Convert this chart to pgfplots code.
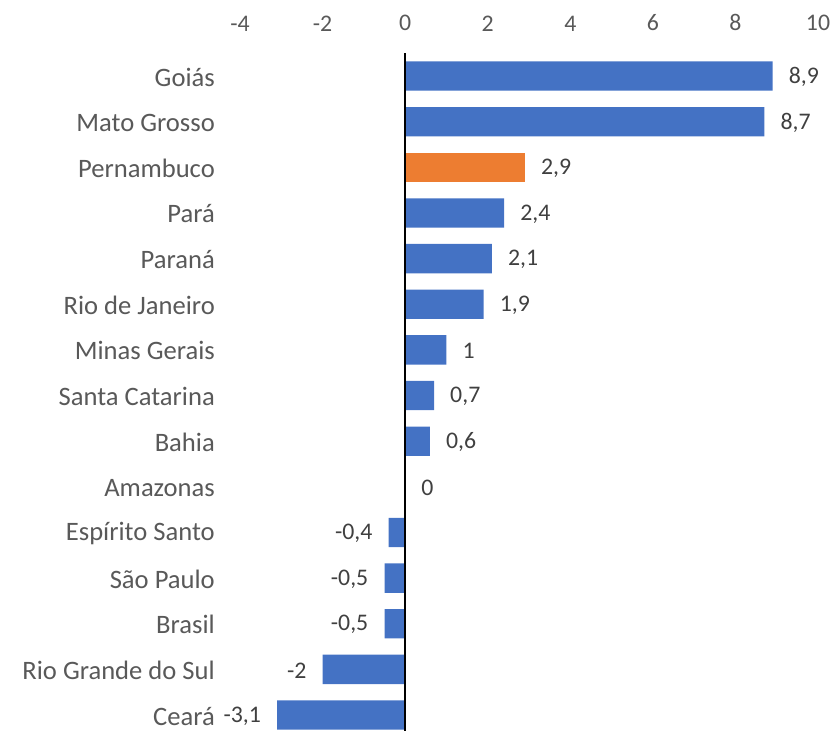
\documentclass[border=0pt]{standalone}
\usepackage{fontspec}
\setmainfont{Carlito}
\usepackage{pgfplots}
\pgfplotsset{compat=1.18}
\definecolor{barblue}{HTML}{4472C4}
\definecolor{barorange}{HTML}{ED7D31}
\definecolor{labgray}{HTML}{595959}
\definecolor{datgray}{HTML}{404040}
\begin{document}
\begin{tikzpicture}
\useasboundingbox (0pt,0pt) rectangle (833pt,-731pt);
\begin{axis}[
  at={(240pt,-53.2pt)}, anchor=north west,
  scale only axis, width=578pt, height=677.8pt,
  xbar, bar width=29.3pt, bar shift=0pt,
  xmin=-4, xmax=10,
  ymin=-0.5, ymax=14.35, y dir=reverse,
  xtick={-4,-2,0,2,4,6,8,10},
  ytick={0,...,14},
  yticklabels={Goiás,Mato Grosso,Pernambuco,Pará,Paraná,Rio de Janeiro,Minas Gerais,Santa Catarina,Bahia,Amazonas,Espírito Santo,São Paulo,Brasil,Rio Grande do Sul,Ceará},
  xticklabel pos=upper,
  axis line style={draw=none},
  tick style={draw=none},
  major tick length=0pt,
  /pgf/number format/assume math mode=true,
  /pgf/number format/use comma,
  /pgf/number format/1000 sep={},
  xticklabel style={font=\fontsize{23.8}{28}\selectfont, text=labgray, anchor=south, inner ysep=22pt},
  yticklabel style={font=\fontsize{26.6}{31}\selectfont, text=labgray, anchor=east, inner xsep=25pt, yshift=-1pt},
  extra x ticks={0},
  extra x tick labels={},
  extra x tick style={grid=major, grid style={black, line width=1.6pt}},
  axis on top,
  nodes near coords,
  nodes near coords align=horizontal,
  nodes near coords style={font=\fontsize{23.8}{28}\selectfont, text=datgray, inner xsep=16pt, yshift=-1pt},
  point meta=x,
]
\addplot[fill=barblue, draw=none] coordinates {
 (8.9,0) (8.7,1) (2.4,3) (2.1,4) (1.9,5) (1,6) (0.7,7) (0.6,8) (0,9)
 (-0.4,10) (-0.5,11) (-0.5,12) (-2,13) (-3.1,14)
};
\addplot[fill=barorange, draw=none] coordinates {(2.9,2)};
\end{axis}
\end{tikzpicture}
\end{document}
